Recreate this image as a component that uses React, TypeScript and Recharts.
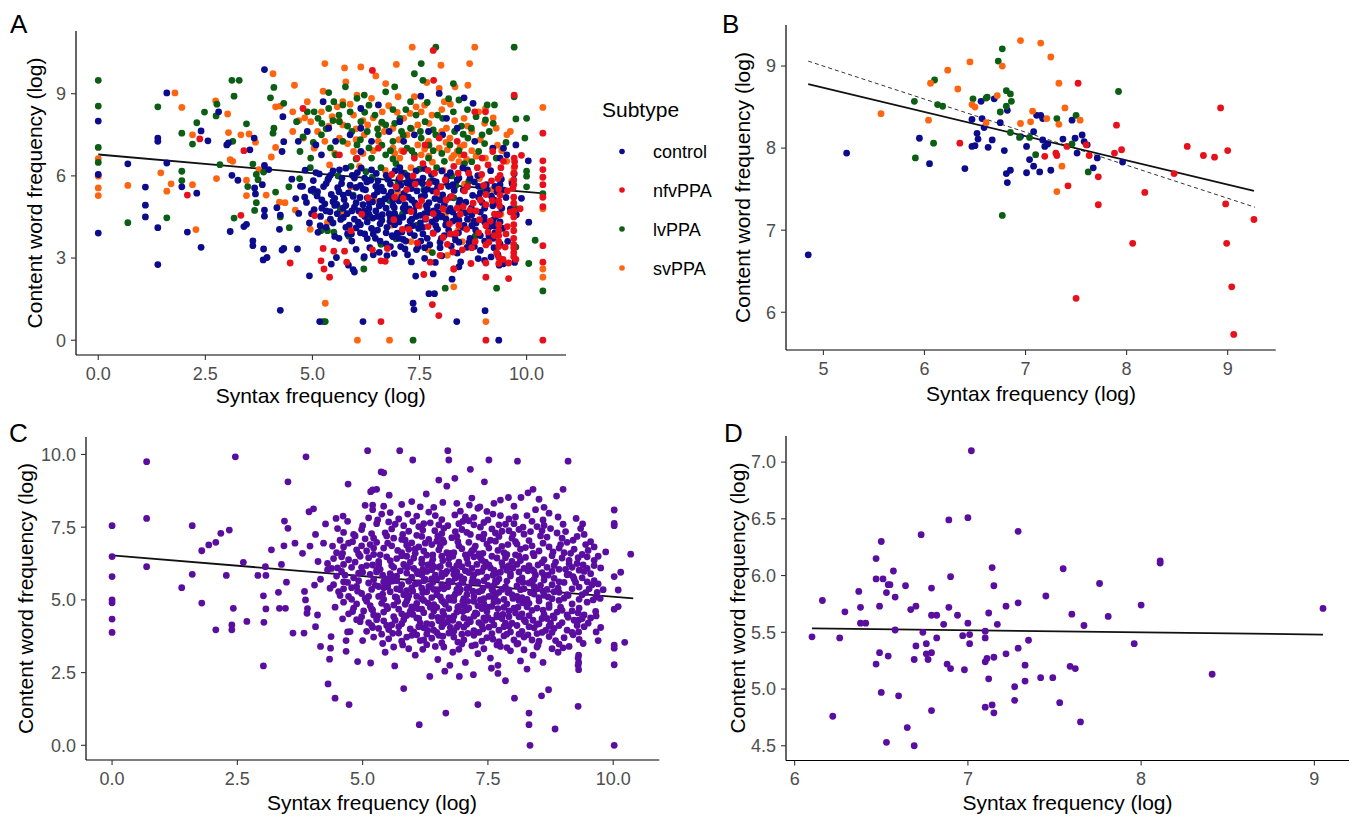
import React from 'react';
import { ScatterChart, Scatter, XAxis, YAxis, ReferenceLine } from 'recharts';

const FONT = '"Liberation Sans", Arial, Helvetica, sans-serif';
const TICK_COLOR = '#4d4d4d';

type Pt = [number, number];

const subtypeNames = ['control', 'nfvPPA', 'lvPPA', 'svPPA'];
const subtypeColors = ['#0b0b8c', '#e8101a', '#0b5e14', '#ff6410'];
const pooledColor = '#5a0ea0';

// ---- Panel A: every utterance, coloured by subtype ----
const aControl: Pt[] = [
  [0,8.0],[0,6.05],[0,3.91],[0.69,6.44],[1.1,5.59],[1.1,4.93],[1.1,4.5],[1.39,7.38],[1.39,7.26],[1.39,4.11],[1.39,2.76],
  [1.6,9.03],[1.6,6.47],[1.95,5.6],[2.08,3.95],[2.3,5.37],[2.4,3.39],[2.4,7.64],[2.56,7.28],[2.81,8.34],[3.0,7.13],[3.04,7.2],
  [3.12,6.02],[3.26,5.84],[3.08,3.97],[3.54,6.95],[3.4,4.15],[3.46,4.23],[3.61,3.63],[3.61,3.45],[3.64,7.38],[3.65,5.56],
  [3.67,5.34],[3.88,9.88],[3.86,3.33],[3.85,2.93],[3.94,3.02],[3.88,6.38],[3.83,5.68],[3.98,6.23],[3.88,4.75],[3.88,4.53],
  [4.29,6.89],[4.17,4.84],[4.25,4.57],[4.23,4.05],[4.29,3.29],[4.33,3.35],[4.25,1.09],[4.65,3.33],[4.31,8.16],[4.33,7.25],
  [5.25,8.71],[7.53,8.91],[7.96,9.01],[8.54,8.85],[8.75,8.65],[6.54,8.59],[6.13,8.46],
  [4.67,7.26],[4.88,7.62],[5.08,7.13],[5.38,7.74],[5.54,7.26],[5.88,7.5],[6.13,7.74],[6.38,7.26],[6.79,7.62],[7.13,7.26],
  [7.38,7.5],[7.71,7.62],[8.04,7.5],[8.38,7.74],[8.79,7.26],[9.21,7.01],[9.46,7.01],[9.75,7.13],[9.38,6.65],[9.54,6.77],
  [10.04,6.55],[7.04,7.98],[8.13,8.1],[5.21,6.77],[6.13,6.89],
  [4.52,5.88],[4.61,5.17],[4.68,4.63],[4.77,5.62],[4.83,6.21],[4.86,5.03],[4.93,4.28],[4.97,5.47],[5.02,5.83],[5.04,4.77],
  [5.11,5.27],[5.13,3.94],[5.16,6.07],[5.19,4.52],[5.26,5.61],[5.29,4.98],[5.32,4.12],[5.36,5.86],[5.41,4.69],[5.44,5.32],
  [5.48,6.18],[5.52,3.79],[5.57,4.96],[5.59,5.57],[5.66,4.41],[5.69,5.91],[5.74,5.14],[5.81,4.62],[5.84,5.38],[5.91,3.88],
  [5.93,6.02],[5.98,4.86],[6.02,5.58],[6.07,4.31],[6.11,5.21],[6.14,6.28],[6.21,4.72],[6.24,5.49],[6.28,3.71],[6.33,5.02],
  [6.36,5.84],[6.41,4.46],[6.44,5.29],[6.49,6.09],[6.52,4.02],[6.56,4.91],[6.61,5.59],[6.63,4.58],[6.69,5.16],[6.72,3.52],
  [6.76,5.88],[6.81,4.33],[6.84,5.41],[6.91,4.84],[6.93,6.19],[6.98,3.91],[7.02,5.09],[7.06,5.66],[7.11,4.49],[7.14,5.36],
  [7.18,3.62],[7.22,6.01],[7.26,4.79],[7.31,5.54],[7.34,4.18],[7.39,5.01],[7.43,3.31],[7.46,5.79],[7.52,4.56],[7.54,5.24],
  [7.58,3.88],[7.61,6.27],[7.66,4.91],[7.69,5.52],[7.74,3.49],[7.79,4.32],[7.86,5.17],[7.89,5.78],[7.94,4.64],[8.01,3.72],
  [8.04,5.31],[8.11,4.21],[8.14,5.98],[8.22,4.81],[8.24,3.43],[8.31,5.47],[8.36,4.52],[8.41,3.92],[8.44,5.11],[8.51,6.29],
  [8.54,4.19],[8.62,5.61],[8.66,3.58],[8.71,4.82],[8.74,5.29],[8.81,4.02],[8.86,6.01],[8.92,3.28],[8.96,5.03],[9.01,4.48],
  [9.06,5.68],[9.12,3.81],[9.16,6.19],[9.21,4.91],[9.24,4.17],[9.31,5.42],[9.33,3.12],[9.36,4.61],[9.41,5.88],[9.44,4.08],
  [9.52,5.21],[9.56,3.61],[9.62,4.79],[9.66,5.72],[9.71,6.08],[9.76,4.58],[9.88,5.18],[10.05,4.31],
  [5.72,4.82],[5.95,5.25],[6.18,4.95],[6.27,5.78],[6.4,5.05],[6.58,4.25],[6.66,5.45],[6.79,4.62],[6.88,5.12],[6.97,4.48],
  [7.04,6.3],[7.16,4.95],[7.24,5.22],[7.37,4.72],[7.48,4.08],[7.57,5.72],[7.64,4.42],[7.72,5.02],[7.83,4.72],[7.92,4.05],
  [8.08,4.95],[8.18,5.62],[8.28,4.35],[8.34,3.66],[8.48,4.86],[8.58,4.65],[8.68,5.92],[8.78,4.35],[6.02,4.1],[6.32,4.6],
  [6.53,5.82],[6.86,3.82],[7.09,3.95],[7.28,4.35],[7.44,5.45],[5.52,5.18],[5.63,6.22],[5.86,4.2],[6.12,5.65],[6.47,3.72],
  [6.74,4.12],[7.2,5.75],[7.53,3.62],[7.81,5.45],[8.02,6.18],[8.38,5.85],[8.88,5.62],[9.08,4.18],[9.28,5.02],[9.47,5.48],
  [5.08,6.12],[5.42,6.02],[5.78,6.28],[6.05,6.12],[6.38,6.22],[6.72,6.02],[7.08,6.12],[7.42,6.18],[7.78,6.05],[8.22,6.12],
  [8.62,6.22],[4.72,5.62],[5.02,5.52],[5.32,5.72],[5.62,5.42],[5.88,5.66],[6.18,5.52],[6.48,5.62],[6.82,5.7],[6.98,5.54],
  [7.28,5.66],[7.62,5.46],[7.92,5.58],[8.28,5.68],[8.52,5.48],[8.92,5.38],[4.82,5.22],[5.22,5.12],[5.48,5.06],[5.72,5.3],
  [6.02,5.02],[6.28,5.2],[6.58,5.08],[6.78,5.28],[7.08,5.22],[7.32,5.12],[7.62,5.28],[7.98,5.12],[8.22,5.22],[8.58,5.04],
  [8.88,5.22],[9.18,5.26],[4.98,4.62],[5.32,4.72],[5.58,4.62],[5.92,4.72],[6.22,4.52],[6.48,4.72],[6.72,4.82],[6.92,4.62],
  [7.18,4.72],[7.42,4.52],[7.72,4.66],[8.02,4.52],[8.28,4.68],[8.62,4.42],[8.92,4.68],[9.28,4.52],[5.18,4.18],[5.48,4.28],
  [5.78,4.12],[6.12,4.22],[6.38,4.08],[6.62,4.38],[6.92,4.22],[7.22,4.12],[7.52,4.28],[7.88,4.18],[8.18,4.02],[8.52,4.12],
  [8.82,4.28],[9.12,4.12],[5.62,3.72],[5.92,3.62],[6.22,3.88],[6.58,3.62],[6.88,3.78],[7.12,3.68],[7.38,3.82],[7.68,3.72],
  [7.98,3.58],[8.32,3.82],[8.68,3.72],[9.02,3.62],[9.38,3.52],[6.02,3.32],[6.42,3.12],[6.82,3.42],[7.22,3.12],[7.62,3.38],
  [7.98,3.38],[8.38,3.18],[8.78,3.42],
  [5.12,5.42],[5.38,5.92],[5.68,5.72],[5.98,5.92],[6.22,5.92],[6.52,5.42],[6.78,5.98],[7.02,5.88],[7.32,5.82],[7.58,5.92],
  [7.82,5.82],[8.12,5.82],[8.42,5.92],[8.78,5.78],[9.08,5.48],[9.38,5.68],[5.22,4.82],[5.52,4.92],[5.78,4.92],[6.08,4.72],
  [6.32,4.82],[6.62,4.98],[6.88,4.92],[7.12,4.82],[7.42,4.92],[7.68,4.82],[7.92,4.88],[8.18,4.72],[8.42,4.98],[8.72,4.58],
  [9.02,4.82],[9.42,4.82],[5.42,4.42],[5.72,4.48],[5.98,4.42],[6.28,4.32],[6.52,4.52],[6.82,4.48],[7.02,4.32],[7.32,4.42],
  [7.62,4.62],[7.88,4.42],[8.12,4.42],[8.42,4.38],[8.72,4.18],[9.02,4.32],[9.38,4.32],[5.82,3.88],[6.12,3.92],[6.42,3.88],
  [6.72,3.92],[7.02,3.72],[7.28,3.92],[7.58,4.12],[7.82,3.92],[8.08,3.82],[8.42,3.58],[8.92,3.82],[9.22,3.72],[9.24,3.38],
  [9.26,3.92],[9.22,4.38],[9.24,5.12],[9.26,5.62],
  [4.93,2.35],[5.44,2.78],[5.56,3.02],[5.84,2.74],[5.95,2.58],[5.98,2.49],[6.21,3.05],[6.34,3.38],[6.56,3.21],[6.74,3.09],
  [6.91,3.16],[7.06,3.42],[7.16,3.33],[7.31,2.86],[7.41,2.34],[7.47,3.41],[7.62,2.99],[7.82,2.42],[7.87,2.84],[8.02,3.08],
  [8.26,2.23],[8.42,2.68],[8.46,2.86],[8.61,3.39],[8.87,2.98],[9.02,2.91],[9.17,3.04],[9.36,2.74],[9.46,2.79],[9.72,2.84],
  [5.17,0.68],[6.18,0.68],[7.35,1.35],[7.37,1.12],[7.72,1.7],[7.85,1.7],[8.37,0.68],[9.03,1.08],[9.35,0],
];
const aNfv: Pt[] = [
  [2.08,5.3],[2.37,7.35],[3.33,4.56],[3.4,6.92],[4.48,2.82],[4.78,8.46],
  [6.4,9.85],[7.82,10.58],[7.83,9.49],[9.71,8.95],
  [7.63,7.13],[7.96,7.38],[8.38,7.26],[8.79,8.34],[9.04,8.34],[8.54,6.77],[8.96,6.65],[9.21,6.89],[9.46,6.53],[9.71,6.65],
  [9.88,6.75],[10.38,6.55],[10.38,6.23],[10.38,5.95],[10.38,5.68],[10.38,7.56],[6.54,7.01],[7.13,6.89],[5.63,6.77],[6.04,6.65],
  [7.38,6.65],
  [5.05,4.55],[5.2,2.9],[5.25,3.35],[5.27,2.6],[5.4,2.3],[5.5,3.25],[5.75,3.25],[5.8,2.85],[5.9,4.0],[6.15,4.6],[6.4,3.3],
  [6.3,5.2],[6.6,0.68],[6.6,2.9],[6.7,2.88],[6.75,3.35],[6.9,4.4],[6.95,5.6],[7.1,4.05],[7.2,5.5],[7.3,4.7],[7.35,6.0],
  [7.45,3.55],[7.55,5.1],[7.6,2.4],[7.65,4.45],[7.7,6.2],[7.75,2.85],[7.8,1.3],[7.82,3.9],[7.9,5.4],[7.95,0.9],[7.98,3.1],
  [8.05,4.8],[8.1,5.85],[8.15,3.5],[8.2,4.25],[8.25,5.25],[8.3,2.6],[8.35,3.9],[8.4,6.1],[8.45,4.6],[8.5,3.3],[8.55,5.45],
  [8.6,4.05],[8.7,2.8],[8.75,5.0],[8.8,3.6],[8.85,6.3],[8.9,4.4],[9.0,5.65],[9.05,2.3],[9.05,0],[9.1,3.95],[9.2,5.1],
  [9.25,4.6],[9.3,3.2],[9.33,5.9],[9.35,4.0],[9.35,3.6],[9.37,4.9],[9.38,5.3],[9.35,2.8],[9.4,6.3],[9.45,2.95],[9.5,3.4],
  [9.58,2.25],[9.68,5.55],[9.7,4.5],[9.7,4.0],[9.7,3.5],[9.7,3.2],[9.7,5.0],[9.72,6.35],[9.75,2.95],[9.85,4.8],[10.38,0],
  [10.38,2.85],[10.38,3.45],
  [6.85,6.05],[7.05,5.95],[7.4,5.7],[7.58,6.45],[7.85,6.1],[8.0,5.6],[8.3,6.35],[8.65,6.1],[8.95,6.05],[9.1,6.4],[7.25,4.05],
  [7.7,4.15],[8.05,3.75],[8.42,4.2],[8.68,4.75],[9.15,4.35],[9.55,4.15],[9.55,5.45],[9.7,5.85],[9.7,6.1],
  [7.12,5.18],[7.48,4.92],[7.82,4.62],[8.12,5.12],[8.38,4.82],[8.62,5.62],[8.92,5.12],[9.18,5.82],[8.22,3.88],[8.88,3.92],
  [9.12,3.58],[9.52,3.88],[9.62,4.68],[6.92,5.22],[7.72,5.72],
  [9.35,3.02],[9.35,3.42],[9.35,3.82],[9.35,4.22],[9.35,4.58],[9.35,5.08],[9.35,5.52],[9.38,6.02],[9.7,3.05],[9.7,3.38],
  [9.7,3.72],[9.7,4.22],[9.7,4.72],[9.7,5.22],[9.7,5.68],[9.72,6.52],[9.05,4.18],[9.05,4.95],[9.05,5.32],[9.05,3.48],
  [8.72,3.38],[8.52,4.88],[8.28,3.22],[8.82,4.72],[9.25,3.82],[9.58,2.82],[9.05,2.82],[10.38,4.88],[10.38,5.22],
];
const aLv: Pt[] = [
  [0,9.49],[0,8.55],[0,7.04],[0,6.49],[0.69,4.29],[1.39,8.52],[1.6,4.47],[1.95,7.56],[1.95,6.17],[1.95,5.83],[2.2,7.16],
  [2.3,7.94],[2.48,8.33],[2.77,8.62],[2.75,8.19],[2.84,6.41],[3.17,4.46],[3.12,9.49],[3.29,9.49],[3.17,8.91],[3.14,7.26],
  [3.46,7.9],[3.49,5.61],[3.61,6.43],[3.69,6.05],[3.65,4.74],[3.69,5.02],[3.73,5.86],[3.86,6.14],[4.1,9.23],[4.02,8.85],
  [4.1,7.74],[4.08,7.56],[4.14,5.41],[4.25,4.5],[4.46,4.11],[4.33,8.65],
  [7.88,10.7],[9.71,10.7],[7.54,10.1],[7.38,9.73],[6.92,9.25],[7.58,9.49],[8.29,9.37],[5.38,9.04],[5.77,9.25],[6.21,8.95],
  [6.71,9.07],[9.71,8.89],[8.42,8.77],[9.08,8.59],[5.04,8.34],[5.71,8.59],[6.04,8.83],[7.29,8.71],[9.04,8.04],[9.25,8.59],
  [10.0,8.1],[9.75,8.08],[5.5,8.71],
  [4.63,7.98],[4.88,8.34],[5.13,8.1],[5.38,8.46],[5.63,7.98],[5.88,8.34],[6.13,7.98],[6.46,8.22],[6.71,7.86],[7.04,8.1],
  [7.29,7.74],[7.63,7.98],[8.04,8.1],[8.29,8.34],[8.71,7.74],[8.96,7.5],[9.13,7.62],[5.21,7.5],[5.71,7.26],[6.04,7.13],
  [6.54,7.5],[6.88,7.26],[7.21,7.01],[7.54,7.38],[7.88,7.5],[8.21,7.13],[8.63,7.38],[8.88,6.89],[4.71,6.89],[4.96,6.65],
  [5.54,6.77],[6.38,6.65],[6.71,6.77],[7.38,6.77],[7.71,6.65],[8.08,6.53],[9.29,6.65],[9.96,7.38],[10.0,6.17],[10.0,5.99],
  [10.0,5.6],
  [4.78,7.42],[5.32,7.72],[5.82,7.82],[6.28,7.62],[6.62,7.96],[7.12,7.48],[7.42,8.22],[7.82,7.68],[8.48,7.82],[8.82,8.16],
  [5.48,8.02],[6.32,8.58],[6.88,8.42],[7.68,8.68],[8.18,8.82],[6.12,7.32],[6.82,6.92],[7.72,7.12],[8.42,6.92],[9.02,7.18],
  [5.22,7.92],[5.62,8.22],[5.92,7.62],[6.22,8.32],[6.52,7.72],[6.92,7.92],[7.18,8.42],[7.52,7.62],[7.92,8.22],[8.32,7.62],
  [8.62,8.42],[9.22,7.92],[5.02,7.22],[5.42,7.02],[6.02,6.62],[6.62,7.12],[7.32,6.92],[8.02,6.82],[8.72,6.52],[9.52,7.22],
  [6.32,7.02],[7.82,6.92],[8.52,7.52],[7.08,7.62],[6.88,6.62],
  [4.45,5.6],[4.7,5.9],[4.95,6.3],[5.05,5.4],[5.2,4.0],[5.35,4.0],[5.5,3.95],[5.65,4.8],[5.85,3.8],[5.95,5.3],[6.2,3.0],
  [6.2,2.6],[6.35,4.5],[6.5,5.6],[6.6,3.5],[6.8,5.1],[6.95,3.7],[7.1,4.6],[7.25,5.9],[7.45,4.2],[7.6,5.5],[7.8,3.2],[8.0,4.5],
  [8.1,1.9],[8.3,5.2],[8.5,4.7],[8.65,5.8],[8.8,3.8],[9.0,5.5],[9.3,1.9],[9.35,4.1],[9.75,4.8],[9.75,3.4],[10.05,2.8],
  [10.2,3.65],[10.38,1.8],[10.38,5.35],[5.25,0.68],[5.3,0.68],[7.35,0],
  [5.9,6.35],[6.25,6.15],[6.6,6.3],[6.95,6.45],[7.15,6.1],[7.5,6.25],[7.9,6.3],[8.25,6.0],[8.55,6.45],[6.4,5.95],[7.0,5.75],
  [7.75,5.8],[8.35,5.65],[5.6,6.0],
];
const aSv: Pt[] = [
  [0,6.63],[0,5.99],[0,5.56],[0,5.28],[0.69,5.65],[1.46,6.11],[1.6,5.44],[1.7,5.71],[1.79,9.03],[1.95,8.5],[2.2,5.68],
  [2.2,7.5],[2.28,4.04],[2.74,8.74],[2.76,5.9],[3.02,8.26],[3.04,7.58],[3.08,6.59],[3.14,6.53],[3.33,7.5],[3.52,7.53],
  [3.46,5.84],[3.46,5.28],[3.67,7.23],[3.75,6.23],[3.92,5.3],[4.08,9.73],[4.14,8.52],[4.14,7.04],[4.04,6.69],[4.23,5.04],
  [4.36,5.02],[4.25,8.55],
  [5.29,10.1],[5.75,9.94],[6.13,9.98],[6.48,9.65],[6.96,10.07],[7.33,10.7],[8.79,10.7],[8.67,10.1],[8.0,10.04],[5.78,9.43],
  [5.25,9.09],[4.58,9.31],[6.71,9.37],[7.38,8.89],[7.67,9.41],[8.33,9.25],[8.63,9.31],[5.71,8.71],[6.04,8.95],[7.96,9.19],
  [6.38,8.83],[7.0,8.89],[4.88,8.71],[7.54,8.34],[8.08,8.71],
  [4.54,8.34],[4.96,7.98],[5.21,8.34],[5.46,8.16],[5.71,7.86],[5.96,8.22],[6.29,7.86],[6.63,8.34],[6.88,7.74],[7.13,8.1],
  [7.46,7.86],[7.79,8.22],[8.13,7.74],[8.54,8.1],[8.88,8.34],[9.04,8.46],[9.29,7.74],[9.54,7.5],[6.21,7.5],[6.54,7.26],
  [7.21,7.5],[7.71,7.26],[8.21,7.38],[8.54,7.13],[8.38,6.89],[7.96,7.01],[7.46,7.13],[6.88,7.01],[5.63,7.38],[4.79,7.38],
  [4.54,7.62],[5.04,7.01],[5.96,6.89],[8.46,6.77],[8.25,6.65],[7.54,6.77],[9.54,6.53],[9.71,6.29],[9.04,6.65],[7.04,6.65],
  [5.29,7.26],
  [4.68,8.02],[5.12,7.62],[5.58,8.52],[6.02,7.72],[6.42,8.12],[6.78,8.56],[7.28,8.28],[7.62,8.58],[8.02,8.42],[8.32,8.02],
  [8.72,7.62],[9.22,8.12],[5.82,7.18],[6.42,6.92],[7.02,7.32],[7.62,6.98],[8.02,7.62],[8.72,6.92],[9.32,7.12],[6.68,7.62],
  [4.82,8.12],[5.38,7.82],[5.62,8.02],[5.88,8.62],[6.18,8.02],[6.62,7.92],[6.98,8.32],[7.32,7.72],[7.72,7.92],[8.22,8.62],
  [8.62,7.82],[9.02,7.92],[5.52,6.82],[6.18,6.82],[6.92,6.82],[7.72,6.72],[8.12,7.22],[8.92,7.32],[9.42,6.92],[7.42,8.52],
  [6.02,7.32],[8.42,6.52],[7.08,6.92],[8.82,6.72],[9.62,7.62],
  [4.6,4.75],[4.95,4.05],[5.3,1.35],[5.35,4.3],[5.7,4.6],[5.9,5.6],[6.05,0],[6.2,4.7],[6.45,5.1],[6.8,0],[6.85,4.2],[7.0,5.4],
  [7.3,3.6],[7.5,4.9],[7.7,3.3],[7.9,5.2],[8.1,4.6],[8.15,3.1],[8.3,1.95],[8.3,2.6],[8.4,4.0],[8.5,3.6],[8.55,5.7],[8.7,4.4],
  [8.9,5.9],[9.05,0.68],[9.2,5.5],[9.4,4.6],[9.65,5.8],[10.38,8.5],[10.38,4.8],[10.38,2.3],[10.38,2.6],
  [8.15,6.95],[8.3,6.75],[8.45,7.05],[8.6,6.6],[7.8,6.5],[8.05,6.2],[6.1,6.35],[6.7,6.2],[5.4,6.4],[7.3,6.3],
];
const aFit: Pt[] = [[0, 6.78], [10.4, 5.36]];

// ---- Panel B: speaker means, coloured by subtype ----
const bControl: Pt[] = [
  [4.85,6.7],[5.23,7.94],[5.95,8.12],[6.05,7.81],[6.4,7.75],[6.47,8.35],[6.47,8.02],[6.5,8.03],[6.52,8.18],[6.53,8.11],
  [6.56,8.57],[6.57,8.36],[6.59,8.25],[6.63,8.01],[6.67,8.1],[6.69,8.6],[6.75,8.31],[6.79,7.97],[6.81,7.69],[6.82,7.58],
  [6.82,8.46],[6.85,7.73],[6.95,8.14],[7.01,8.02],[7.01,7.7],[7.04,7.86],[7.08,7.78],[7.08,8.2],[7.11,8.4],[7.14,7.71],
  [7.15,8.4],[7.17,8.1],[7.17,8.36],[7.19,8.02],[7.22,8.05],[7.25,7.73],[7.37,8.11],[7.46,8.34],[7.49,8.12],[7.51,7.94],
  [7.56,8.16],[7.58,8.08],[7.61,8.04],[7.67,7.76],[7.71,7.88],[7.96,7.83],
];
const bNfv: Pt[] = [
  [6.35,8.06],[7.19,7.9],[7.3,7.94],[7.31,7.91],[7.41,8.02],[7.42,7.54],[7.5,6.17],[7.52,8.79],[7.6,8.04],[7.63,7.91],
  [7.72,7.65],[7.72,7.31],[7.88,7.94],[7.9,8.28],[7.95,7.98],[8.06,6.84],[8.18,7.46],[8.47,7.69],[8.6,8.02],[8.76,7.91],
  [8.87,7.89],[8.93,8.49],[8.98,7.32],[8.99,6.84],[9.0,7.97],[9.04,6.31],[9.06,5.73],[9.26,7.13],
];
const bLv: Pt[] = [
  [5.9,8.57],[5.91,7.88],[6.09,8.06],[6.1,8.83],[6.13,8.53],[6.18,8.51],[6.48,8.6],[6.61,8.61],[6.62,8.62],[6.73,9.06],
  [6.75,8.44],[6.77,9.21],[6.77,7.18],[6.81,8.7],[6.81,8.51],[6.85,8.66],[6.86,8.57],[6.85,8.19],[6.94,8.13],[7.04,8.13],
  [7.1,7.92],[7.31,8.36],[7.46,8.05],[7.5,8.4],[7.62,7.71],[7.92,8.69],
];
const bSv: Pt[] = [
  [5.57,8.42],[6.04,8.34],[6.06,8.79],[6.23,8.95],[6.33,8.72],[6.45,9.05],[6.47,8.53],[6.5,8.5],[6.61,8.31],[6.72,8.64],
  [6.77,9.0],[6.95,9.31],[6.95,8.3],[7.07,8.45],[7.05,8.32],[7.15,9.28],[7.21,8.36],[7.25,9.11],[7.33,8.79],[7.33,8.29],
  [7.36,7.78],[7.31,7.47],[7.39,8.49],[7.54,8.34],
];
const bFit: Pt[] = [[4.85, 8.78], [9.26, 7.48]];
const bFitDashed: Pt[] = [[4.85, 9.06], [9.27, 7.28]];

// ---- Panel C: every utterance, pooled ----
const cAll: Pt[] = [
  [0,7.55],[0,6.49],[0,5.8],[0,5.0],[0,4.9],[0,4.34],[0,3.88],[0.69,9.75],[0.69,7.8],[0.69,6.14],[1.39,5.42],[1.6,7.55],
  [1.6,5.88],[1.79,6.69],[1.79,4.89],[1.93,6.89],[2.07,3.97],[2.07,6.98],[2.17,7.29],[2.28,5.84],[2.34,7.4],[2.39,4.14],
  [2.39,3.97],[2.46,9.92],[2.42,4.71],[2.62,6.29],[2.69,4.26],[2.91,5.84],[3.03,4.23],[3.02,5.14],[3.02,2.73],[3.06,6.14],
  [3.07,4.69],[3.07,5.84],[3.18,6.72],[3.32,5.26],[3.34,4.71],[3.38,6.22],[3.46,4.71],[3.43,6.86],[3.44,7.71],[3.51,9.06],
  [3.51,7.46],[3.48,5.61],[3.61,3.86],[3.65,6.95],[3.8,6.6],[3.87,9.92],[3.84,5.29],[3.83,3.86],[3.86,5.0],[3.9,4.7],
  [3.89,4.54],[3.93,8.03],[4.02,8.13],[3.95,6.85],[4.06,7.25],[4.11,6.32],[4.04,5.51],[4.06,4.08],[4.1,4.48],[4.16,5.71],
  [4.22,6.95],[4.26,7.61],[4.3,6.03],[4.16,3.4],[4.34,2.96],[4.36,3.34],[4.31,2.11],[4.37,3.74],[4.45,1.62],[4.47,7.8],
  [4.67,3.23],[4.67,3.6],[4.73,1.4],[4.71,8.98],[4.61,7.88],[4.75,3.91],[4.9,2.88],
  [5.1,10.13],[5.37,9.4],[5.42,9.37],[5.74,10.13],[6.0,9.81],[6.7,10.13],[6.72,9.81],[7.15,9.49],[7.52,9.81],[7.43,9.06],
  [8.09,9.77],[9.1,9.77],[6.52,9.12],[6.84,9.18],[5.16,8.72],[5.28,8.8],[5.2,8.78],[5.2,8.26],[5.53,8.6],[5.98,8.38],
  [6.27,8.64],[6.68,8.91],[7.13,8.26],[7.34,8.2],[7.75,8.43],[7.91,8.52],[8.16,8.52],[8.3,8.68],[8.4,8.8],[8.52,8.46],
  [8.87,8.57],[9.0,8.8],[9.26,7.8],[9.39,7.61],[10.02,8.09],[10.02,7.63],[10.02,7.55],[10.35,6.57],[10.15,5.95],[10.1,5.34],
  [10.1,4.77],[10.23,3.54],[10.02,5.8],[10.02,4.68],[10.02,3.44],[10.02,3.34],[10.02,2.77],[10.02,0],
  [5.16,2.83],[5.64,2.73],[5.82,1.95],[6.13,0.71],[6.34,2.37],[6.66,1.11],[6.64,2.55],[6.74,2.75],[6.93,2.37],[7.21,2.43],
  [7.3,1.4],[7.57,2.65],[7.7,2.47],[7.85,2.22],[8.03,1.62],[8.28,2.62],[8.32,0.71],[8.32,1.11],[8.34,0],[8.57,1.7],
  [8.71,1.91],[8.84,0.56],[9.3,1.34],[9.31,2.6],[9.31,2.85],[9.31,3.1],[9.31,3.9],[9.31,4.3],
  [5.05,8.25],[5.2,8.1],[5.55,8.0],[5.9,7.95],[6.15,8.2],[6.45,7.9],[6.6,8.35],[6.95,8.05],[7.05,7.85],[7.3,8.15],[7.6,7.95],
  [7.75,7.9],[8.05,7.85],[8.45,8.1],[8.6,7.75],[8.9,7.85],[9.0,7.6],
  [4.5,7.45],[4.7,7.7],[4.85,7.2],[5.0,7.55],[5.3,7.75],[5.45,7.3],[5.65,7.6],[5.8,7.25],[6.0,7.7],[6.2,7.4],[6.35,7.65],
  [6.5,7.2],[6.7,7.55],[6.85,7.35],[7.0,7.7],[7.15,7.25],[7.35,7.5],[7.5,7.75],[7.65,7.3],[7.85,7.6],[8.0,7.25],[8.2,7.5],
  [8.35,7.35],[8.55,7.2],[8.75,7.45],[9.05,7.35],[9.2,7.05],[9.35,7.45],[9.55,7.0],
  [4.4,6.85],[4.6,6.6],[4.8,7.0],[4.95,6.5],[5.15,6.9],[5.35,6.55],[5.5,6.95],[5.7,6.7],[5.85,7.05],[6.05,6.6],[6.25,6.95],
  [6.4,6.55],[6.55,6.85],[6.75,6.6],[6.9,7.0],[7.05,6.55],[7.25,6.85],[7.4,6.6],[7.55,7.05],[7.7,6.7],[7.9,6.9],[8.05,6.55],
  [8.25,6.8],[8.4,6.6],[8.6,6.95],[8.8,6.65],[8.95,6.9],[9.15,6.6],[9.3,6.45],[9.5,6.7],[9.7,6.5],[9.85,6.65],
  [4.3,6.25],[4.5,6.1],[4.65,5.85],[4.85,6.3],[5.0,5.95],[5.2,6.2],[5.4,5.85],[5.55,6.35],[5.75,6.0],[5.95,6.3],[6.1,5.9],
  [6.3,6.2],[6.45,5.85],[6.6,6.35],[6.8,6.05],[6.95,5.8],[7.1,6.25],[7.3,5.95],[7.45,6.3],[7.6,5.85],[7.8,6.15],[7.95,5.9],
  [8.15,6.35],[8.3,6.0],[8.5,6.2],[8.7,5.85],[8.85,6.3],[9.05,6.05],[9.2,5.8],[9.4,6.2],[9.55,5.9],[9.75,6.1],
  [4.35,5.4],[4.55,5.15],[4.7,5.6],[4.9,5.3],[5.05,5.05],[5.25,5.5],[5.4,5.2],[5.6,5.65],[5.75,5.35],[5.9,5.05],[6.05,5.55],
  [6.2,5.25],[6.4,5.6],[6.55,5.1],[6.7,5.45],[6.85,5.2],[7.0,5.6],[7.2,5.3],[7.35,5.0],[7.5,5.5],[7.65,5.15],[7.85,5.45],
  [8.0,5.05],[8.2,5.6],[8.35,5.25],[8.55,5.5],[8.7,5.1],[8.9,5.4],[9.1,5.15],[9.25,5.6],[9.45,5.25],[9.6,5.0],[9.8,5.35],
  [4.45,4.75],[4.6,4.35],[4.8,4.6],[4.95,4.25],[5.15,4.8],[5.3,4.45],[5.5,4.7],[5.65,4.3],[5.85,4.85],[6.0,4.5],[6.15,4.2],
  [6.35,4.75],[6.5,4.4],[6.65,4.85],[6.8,4.3],[7.0,4.6],[7.15,4.25],[7.3,4.8],[7.5,4.4],[7.7,4.7],[7.85,4.2],[8.05,4.55],
  [8.2,4.9],[8.4,4.3],[8.6,4.65],[8.75,4.2],[8.95,4.75],[9.1,4.4],[9.3,4.55],[9.5,4.2],[9.65,4.6],[9.75,4.05],
  [4.7,3.9],[5.0,3.6],[5.2,4.05],[5.4,3.5],[5.6,3.85],[5.8,3.45],[5.95,4.0],[6.15,3.6],[6.3,3.95],[6.45,3.4],[6.6,3.75],
  [6.75,4.05],[6.9,3.55],[7.1,3.85],[7.25,3.45],[7.4,4.0],[7.6,3.65],[7.75,3.4],[7.95,3.9],[8.1,3.5],[8.3,3.8],[8.5,3.45],
  [8.65,3.95],[8.85,3.6],[9.0,3.35],[9.2,3.8],[9.4,3.5],[9.7,3.6],
  [5.45,3.2],[6.05,3.1],[6.2,3.3],[6.5,2.95],[6.8,3.2],[7.05,2.85],[7.3,3.15],[7.55,3.0],[7.7,2.75],[7.95,3.25],[8.15,2.9],
  [8.4,3.1],[8.6,2.85],[8.9,3.2],[9.3,2.75],[9.3,3.0],
  [5.55,5.9],[5.7,4.95],[5.85,6.15],[6.0,5.3],[6.1,4.7],[6.25,5.7],[6.3,4.9],[6.4,6.4],[6.5,5.35],[6.6,4.6],[6.65,5.9],
  [6.75,5.0],[6.8,6.5],[6.9,4.75],[6.95,5.35],[7.05,6.0],[7.1,4.95],[7.2,5.75],[7.25,4.55],[7.35,6.45],[7.4,5.4],[7.5,4.75],
  [7.55,6.1],[7.6,5.3],[7.7,4.95],[7.75,5.95],[7.8,4.5],[7.9,5.25],[8.0,6.1],[8.1,4.75],[5.65,5.1],[5.95,4.6],[6.2,6.05],
  [6.35,5.45],[6.55,6.15],[6.7,4.25],[6.85,5.75],[7.0,4.95],[7.15,6.6],[7.3,5.6],[7.45,4.3],[7.65,5.65],[7.85,6.45],
  [8.15,5.35],[8.25,4.25],[8.45,5.85],[8.6,5.3],[8.8,4.45],[5.5,5.45],[5.35,6.05],[5.2,4.65],[6.05,6.75],[6.6,7.05],
  [7.4,7.1],[8.05,7.0],[9.66,3.9],[9.66,4.45],[9.66,5.1],[9.7,5.55],[9.74,5.05],
  [5.12,7.82],[5.38,7.95],[5.72,7.78],[6.08,7.88],[6.32,8.02],[6.58,7.76],[6.84,7.92],[7.22,7.84],[7.48,8.04],[7.92,7.78],
  [8.28,7.9],[8.72,7.98],[4.62,7.32],[4.98,7.42],[5.18,7.28],[5.58,7.44],[5.92,7.36],[6.12,7.52],[6.44,7.38],[6.62,7.46],
  [6.98,7.42],[7.22,7.58],[7.58,7.44],[7.78,7.36],[8.12,7.42],[8.48,7.52],[8.88,7.3],[9.42,7.25],[4.55,7.05],[4.72,6.95],
  [5.05,7.1],[5.28,6.98],[5.62,7.12],[5.98,6.96],[6.18,7.18],[6.48,7.02],[6.78,7.14],[7.12,6.98],[7.32,7.16],[7.65,7.02],
  [7.98,7.12],[8.32,7.04],[8.68,7.16],[9.08,6.98],[9.45,6.9],[4.48,6.62],[4.88,6.72],[5.08,6.68],[5.42,6.78],[5.78,6.62],
  [5.92,6.74],[6.22,6.68],[6.52,6.72],[6.68,6.62],[6.98,6.76],[7.18,6.68],[7.52,6.78],[7.82,6.62],[8.15,6.74],[8.52,6.68],
  [8.92,6.78],[9.22,6.74],[9.62,6.82],[4.42,6.42],[4.72,6.38],[5.12,6.45],[5.32,6.32],[5.68,6.42],[5.88,6.5],[6.18,6.4],
  [6.38,6.28],[6.72,6.42],[6.92,6.3],[7.22,6.48],[7.38,6.36],[7.68,6.44],[7.98,6.32],[8.25,6.46],[8.62,6.38],[8.98,6.44],
  [9.28,6.25],[9.62,6.36],[4.38,6.08],[4.78,6.12],[5.08,6.18],[5.28,6.02],[5.62,6.12],[5.82,6.22],[6.02,6.08],[6.28,5.98],
  [6.52,6.12],[6.68,5.98],[6.88,6.18],[7.18,6.08],[7.42,6.12],[7.62,6.02],[7.92,6.18],[8.22,6.08],[8.42,5.98],[8.68,6.12],
  [8.92,6.05],[9.18,6.12],[9.48,6.08],[4.48,5.82],[4.82,5.76],[5.15,5.88],[5.48,5.72],[5.68,5.82],[5.98,5.78],[6.18,5.86],
  [6.38,5.72],[6.58,5.8],[6.82,5.88],[7.02,5.72],[7.22,5.86],[7.48,5.78],[7.72,5.72],[7.95,5.82],[8.18,5.76],[8.42,5.7],
  [8.62,5.84],[8.82,5.74],[9.12,5.88],[9.38,5.76],[9.62,5.66],[4.42,5.52],[4.78,5.42],[5.12,5.58],[5.32,5.46],[5.52,5.6],
  [5.78,5.52],[5.98,5.42],[6.12,5.58],[6.32,5.46],[6.58,5.52],[6.78,5.62],[6.92,5.5],[7.12,5.44],[7.28,5.62],[7.62,5.5],
  [7.78,5.36],[8.08,5.48],[8.32,5.58],[8.48,5.38],[8.78,5.52],[9.02,5.6],[9.32,5.44],[9.58,5.52],[4.52,5.28],[4.72,5.12],
  [4.98,5.22],[5.32,5.12],[5.55,5.28],[5.82,5.18],[6.08,5.12],[6.28,5.28],[6.48,5.18],[6.72,5.08],[6.92,5.26],[7.08,5.18],
  [7.32,5.28],[7.52,5.12],[7.72,5.26],[7.98,5.18],[8.18,5.08],[8.42,5.2],[8.62,5.16],[8.82,5.28],[9.02,5.06],[9.38,5.18],
  [9.68,5.26],[4.62,4.92],[4.88,4.86],[5.08,4.95],[5.38,4.88],[5.62,4.82],[5.88,4.96],[6.08,4.88],[6.22,4.98],[6.42,4.84],
  [6.62,4.92],[6.82,4.98],[7.02,4.82],[7.22,4.95],[7.42,4.86],[7.62,4.94],[7.88,4.86],[8.12,4.98],[8.32,4.88],[8.52,4.96],
  [8.72,4.84],[8.92,4.98],[9.18,4.86],[9.48,4.92],[4.72,4.52],[5.02,4.62],[5.22,4.48],[5.42,4.58],[5.78,4.52],[5.98,4.66],
  [6.22,4.56],[6.42,4.62],[6.62,4.48],[6.88,4.58],[7.08,4.66],[7.28,4.52],[7.48,4.6],[7.68,4.48],[7.92,4.62],[8.18,4.52],
  [8.38,4.64],[8.62,4.5],[8.88,4.58],[9.18,4.62],[9.42,4.48],[4.88,4.32],[5.12,4.22],[5.42,4.28],[5.58,4.14],[5.82,4.32],
  [6.08,4.38],[6.28,4.18],[6.52,4.28],[6.72,4.38],[6.92,4.16],[7.12,4.32],[7.32,4.22],[7.58,4.3],[7.78,4.36],[7.98,4.2],
  [8.22,4.32],[8.48,4.16],[8.68,4.36],[8.98,4.22],[9.22,4.3],[9.55,4.38],[5.08,3.92],[5.32,4.02],[5.52,3.98],[5.72,4.08],
  [6.02,3.9],[6.22,4.04],[6.42,3.96],[6.58,4.08],[6.82,3.92],[7.02,4.06],[7.22,3.94],[7.52,4.06],[7.72,3.96],[7.92,4.1],
  [8.18,3.92],[8.42,4.04],[8.58,3.88],[8.82,4.02],[9.08,3.96],[9.42,4.08],[5.22,3.72],[5.52,3.66],[5.88,3.72],[6.08,3.8],
  [6.38,3.68],[6.52,3.78],[6.82,3.72],[7.02,3.62],[7.22,3.78],[7.48,3.7],[7.82,3.76],[8.02,3.62],[8.22,3.72],[8.38,3.62],
  [8.72,3.74],[9.02,3.7],[9.32,3.64],[5.62,3.38],[5.92,3.32],[6.28,3.46],[6.62,3.38],[6.92,3.3],[7.18,3.42],[7.42,3.32],
  [7.68,3.45],[7.88,3.36],[8.22,3.28],[8.48,3.38],[8.78,3.32],[9.12,3.4],[5.42,8.22],[5.78,8.28],[6.42,8.18],[6.88,8.32],
  [7.18,8.5],[7.62,8.32],[8.02,8.22],[8.62,8.18],
  [5.28,7.62],[5.52,7.68],[5.82,7.55],[6.22,7.62],[6.52,7.58],[6.92,7.62],[7.12,7.72],[7.42,7.66],[7.72,7.58],[8.02,7.62],
  [8.38,7.7],[8.62,7.56],[4.82,7.25],[5.22,7.12],[5.48,7.2],[5.78,7.08],[6.08,7.22],[6.32,7.08],[6.58,7.28],[6.88,7.18],
  [7.08,7.32],[7.42,7.26],[7.72,7.18],[7.92,7.38],[8.22,7.26],[8.58,7.38],[8.98,7.12],[9.28,7.18],[4.62,6.82],[4.98,6.86],
  [5.22,6.78],[5.58,6.86],[5.88,6.88],[6.12,6.82],[6.38,6.9],[6.62,6.98],[6.92,6.86],[7.22,6.74],[7.48,6.92],[7.78,6.84],
  [8.08,6.92],[8.38,6.86],[8.72,6.82],[9.02,6.62],[9.38,6.56],[4.58,6.48],[4.92,6.58],[5.22,6.56],[5.48,6.48],[5.78,6.52],
  [6.02,6.44],[6.28,6.54],[6.58,6.5],[6.82,6.62],[7.08,6.42],[7.32,6.58],[7.58,6.5],[7.88,6.56],[8.12,6.5],[8.42,6.52],
  [8.78,6.52],[9.12,6.36],[9.48,6.48],[4.62,6.22],[4.98,6.12],[5.32,6.22],[5.58,6.18],[5.9,6.12],[6.18,6.26],[6.42,6.14],
  [6.72,6.22],[6.98,6.14],[7.28,6.22],[7.52,6.2],[7.78,6.28],[8.08,6.22],[8.32,6.18],[8.58,6.28],[8.82,6.18],[9.12,6.24],
  [9.32,6.02],[9.62,6.18],[4.58,5.98],[4.92,5.92],[5.28,5.96],[5.58,5.82],[5.88,5.92],[6.08,5.98],[6.38,6.04],[6.58,5.92],
  [6.88,5.96],[7.12,5.94],[7.38,5.98],[7.68,5.92],[7.88,6.02],[8.12,5.96],[8.38,6.04],[8.58,5.94],[8.78,5.98],[9.08,5.86],
  [9.42,5.98],[4.62,5.62],[4.92,5.66],[5.22,5.7],[5.42,5.62],[5.68,5.66],[5.92,5.64],[6.22,5.66],[6.48,5.72],[6.72,5.64],
  [6.98,5.68],[7.18,5.62],[7.42,5.66],[7.68,5.62],[7.88,5.64],[8.12,5.68],[8.38,5.64],[8.62,5.68],[8.92,5.62],[9.22,5.72],
  [9.48,5.62],[4.62,5.38],[4.88,5.46],[5.18,5.36],[5.42,5.42],[5.68,5.38],[5.88,5.32],[6.18,5.4],[6.42,5.36],[6.62,5.38],
  [6.88,5.36],[7.08,5.38],[7.38,5.32],[7.58,5.36],[7.92,5.34],[8.22,5.38],[8.42,5.46],[8.68,5.36],[8.92,5.26],[9.18,5.38],
  [9.52,5.38],[4.78,5.02],[5.12,5.12],[5.42,5.02],[5.68,5.08],[5.92,5.14],[6.18,5.04],[6.38,5.08],[6.58,4.98],[6.82,5.1],
  [7.02,5.04],[7.22,5.12],[7.42,5.04],[7.62,5.08],[7.82,5.02],[8.08,5.12],[8.28,5.02],[8.52,5.08],[8.78,5.04],[9.08,5.18],
  [9.32,5.02],[4.82,4.72],[5.18,4.68],[5.48,4.78],[5.72,4.68],[5.98,4.76],[6.18,4.68],[6.48,4.74],[6.72,4.7],[6.92,4.78],
  [7.12,4.72],[7.38,4.7],[7.58,4.78],[7.82,4.74],[8.02,4.72],[8.28,4.76],[8.48,4.72],[8.72,4.74],[8.98,4.64],[9.32,4.72],
  [4.98,4.42],[5.28,4.32],[5.62,4.42],[5.88,4.46],[6.12,4.36],[6.38,4.44],[6.58,4.36],[6.82,4.44],[7.02,4.38],[7.22,4.44],
  [7.42,4.38],[7.68,4.42],[7.92,4.42],[8.12,4.42],[8.32,4.46],[8.58,4.36],[8.82,4.38],[9.08,4.48],[9.38,4.36],[5.18,4.12],
  [5.48,4.12],[5.78,4.18],[6.12,4.08],[6.38,4.16],[6.62,4.18],[6.88,4.06],[7.08,4.16],[7.38,4.12],[7.62,4.14],[7.82,4.08],
  [8.08,4.12],[8.32,4.08],[8.52,4.18],[8.72,4.1],[8.92,4.12],[9.28,4.12],[5.38,3.82],[5.72,3.86],[5.98,3.78],[6.28,3.82],
  [6.48,3.88],[6.72,3.86],[6.98,3.82],[7.32,3.88],[7.58,3.84],[7.88,3.82],[8.12,3.82],[8.48,3.84],[8.78,3.88],[9.18,3.88],
  [5.78,3.58],[6.22,3.62],[6.58,3.52],[6.98,3.48],[7.38,3.58],[7.72,3.56],[8.08,3.48],[8.52,3.58],[8.92,3.48],
];
const cFit: Pt[] = [[0, 6.53], [10.4, 5.05]];

// ---- Panel D: speaker means, pooled ----
const dAll: Pt[] = [
  [6.1,5.46],[6.16,5.78],[6.22,4.76],[6.26,5.45],[6.29,5.68],[6.37,5.86],[6.38,5.72],[6.38,5.58],[6.41,5.58],[6.47,6.15],
  [6.47,5.97],[6.47,5.22],[6.49,5.32],[6.49,5.73],[6.5,6.3],[6.51,5.97],[6.5,4.97],[6.53,4.53],[6.53,5.85],[6.54,5.92],
  [6.55,5.92],[6.54,5.29],[6.57,6.04],[6.58,5.81],[6.58,5.52],[6.6,4.94],[6.64,5.91],[6.65,4.66],[6.67,5.7],[6.69,4.5],
  [6.69,5.26],[6.7,5.73],[6.7,5.38],[6.73,6.36],[6.74,5.5],[6.76,5.4],[6.76,5.31],[6.77,5.26],[6.79,5.89],[6.79,5.65],
  [6.79,4.81],[6.79,5.32],[6.82,5.45],[6.82,5.65],[6.86,5.57],[6.88,5.22],[6.89,5.72],[6.89,6.49],[6.9,5.18],[6.9,5.99],
  [6.94,5.65],[6.97,5.47],[6.98,5.17],[7.0,6.51],[7.0,5.58],[7.01,5.48],[7.01,5.4],[7.02,7.1],[7.1,4.84],[7.1,5.51],
  [7.1,5.24],[7.1,5.45],[7.11,5.27],[7.12,5.67],[7.12,5.09],[7.14,6.07],[7.14,4.86],[7.15,5.28],[7.15,5.91],[7.15,4.79],
  [7.17,5.57],[7.22,5.73],[7.22,5.31],[7.27,5.02],[7.27,4.9],[7.29,5.76],[7.29,5.36],[7.29,6.39],[7.33,5.21],[7.33,5.07],
  [7.35,5.43],[7.42,5.1],[7.45,5.82],[7.49,5.1],[7.53,4.88],[7.55,6.06],[7.59,5.2],[7.6,5.66],[7.62,5.18],[7.65,4.71],
  [7.67,5.56],[7.76,5.93],[7.81,5.64],[7.96,5.4],[8.0,5.74],[8.11,6.13],[8.11,6.11],[8.41,5.13],[9.05,5.71],
];
const dFit: Pt[] = [[6.1, 5.535], [9.05, 5.48]];

const rows = (pts: Pt[]) => pts.map(([x, y]) => ({ x, y }));
const fixed1 = (v: number) => v.toFixed(1);
const plain = (v: number) => String(v);

const dot = (color: string) => (props: any) =>
  props.cx == null ? <g /> : <circle cx={props.cx} cy={props.cy} r={3.4} fill={color} />;

interface Series { pts: Pt[]; color: string }
interface Fit { pts: Pt[]; dashed?: boolean }
interface PanelProps {
  box: [number, number, number, number];
  xDomain: [number, number];
  yDomain: [number, number];
  xTicks: number[];
  yTicks: number[];
  xFmt: (v: number) => string;
  yFmt: (v: number) => string;
  series: Series[];
  fits: Fit[];
}

const Panel = ({ box, xDomain, yDomain, xTicks, yTicks, xFmt, yFmt, series, fits }: PanelProps) => {
  const [x0, x1, y0, y1] = box;
  const axisLine = { stroke: '#000', strokeWidth: 1.2 };
  const tickLine = { stroke: '#333', strokeWidth: 1.1 };
  const tick = { fill: TICK_COLOR, fontSize: 18 };
  return (
    <div style={{ position: 'absolute', left: x0 - 55, top: y0 - 10 }}>
      <ScatterChart width={x1 - x0 + 60} height={y1 - y0 + 45} margin={{ top: 10, right: 5, bottom: 5, left: 5 }}>
        <XAxis type="number" dataKey="x" domain={xDomain} ticks={xTicks} interval={0} allowDataOverflow
          tickFormatter={xFmt} height={30} axisLine={axisLine} tickLine={tickLine} tickSize={5} tickMargin={7} tick={tick} />
        <YAxis type="number" dataKey="y" domain={yDomain} ticks={yTicks} interval={0} allowDataOverflow
          tickFormatter={yFmt} width={50} axisLine={axisLine} tickLine={tickLine} tickSize={5} tickMargin={5} tick={tick} />
        {series.map((s, i) => (
          <Scatter key={i} data={rows(s.pts)} fill={s.color} shape={dot(s.color)} isAnimationActive={false} />
        ))}
        {fits.map((f, i) => (
          <ReferenceLine key={'fit' + i} ifOverflow="visible"
            segment={[{ x: f.pts[0][0], y: f.pts[0][1] }, { x: f.pts[1][0], y: f.pts[1][1] }]}
            stroke={f.dashed ? '#333' : '#111'} strokeWidth={f.dashed ? 1 : 1.8}
            strokeDasharray={f.dashed ? '4 3' : undefined} />
        ))}
      </ScatterChart>
    </div>
  );
};

const XTITLE = 'Syntax frequency (log)';
const YTITLE = 'Content word frequency (log)';

export default function App() {
  const titles = [
    { x: 320.7, y: 403, yx: 41.5, yy: 193, letter: 'A', lx: 10, ly: 33 },
    { x: 1031, y: 400.5, yx: 749.5, yy: 187.5, letter: 'B', lx: 722, ly: 33 },
    { x: 372, y: 810, yx: 33, yy: 598.5, letter: 'C', lx: 9, ly: 442 },
    { x: 1067.5, y: 810, yx: 744.5, yy: 598, letter: 'D', lx: 724, ly: 442 },
  ];
  const legendY = [151.5, 190, 229, 268];
  return (
    <div style={{ position: 'absolute', left: 0, top: 0, width: 1355, height: 819, background: '#fff', fontFamily: FONT }}>
      <Panel box={[75.7, 565.7, 31, 355]} xDomain={[-0.52, 10.92]} yDomain={[-0.54, 11.29]}
        xTicks={[0, 2.5, 5, 7.5, 10]} yTicks={[0, 3, 6, 9]} xFmt={fixed1} yFmt={plain}
        series={[
          { pts: aSv, color: subtypeColors[3] },
          { pts: aLv, color: subtypeColors[2] },
          { pts: aControl, color: subtypeColors[0] },
          { pts: aNfv, color: subtypeColors[1] },
        ]}
        fits={[{ pts: aFit }]} />
      <Panel box={[786, 1275.7, 25, 350]} xDomain={[4.63, 9.475]} yDomain={[5.54, 9.5]}
        xTicks={[5, 6, 7, 8, 9]} yTicks={[6, 7, 8, 9]} xFmt={plain} yFmt={plain}
        series={[
          { pts: bControl, color: subtypeColors[0] },
          { pts: bNfv, color: subtypeColors[1] },
          { pts: bLv, color: subtypeColors[2] },
          { pts: bSv, color: subtypeColors[3] },
        ]}
        fits={[{ pts: bFitDashed, dashed: true }, { pts: bFit }]} />
      <Panel box={[85.7, 659, 437, 760]} xDomain={[-0.52, 10.92]} yDomain={[-0.505, 10.6]}
        xTicks={[0, 2.5, 5, 7.5, 10]} yTicks={[0, 2.5, 5, 7.5, 10]} xFmt={fixed1} yFmt={fixed1}
        series={[{ pts: cAll, color: pooledColor }]} fits={[{ pts: cFit }]} />
      <Panel box={[786, 1349, 435.5, 760]} xDomain={[5.95, 9.2]} yDomain={[4.37, 7.23]}
        xTicks={[6, 7, 8, 9]} yTicks={[4.5, 5, 5.5, 6, 6.5, 7]} xFmt={plain} yFmt={fixed1}
        series={[{ pts: dAll, color: pooledColor }]} fits={[{ pts: dFit }]} />

      <svg width={1355} height={819} style={{ position: 'absolute', left: 0, top: 0, pointerEvents: 'none' }}>
        {titles.map((t) => (
          <g key={t.letter}>
            <text x={t.lx} y={t.ly} fontSize={26} fill="#000">{t.letter}</text>
            <text x={t.x} y={t.y} fontSize={21} textAnchor="middle" fill="#000">{XTITLE}</text>
            <text x={t.yx} y={t.yy} fontSize={21} textAnchor="middle" fill="#000"
              transform={`rotate(-90 ${t.yx} ${t.yy})`}>{YTITLE}</text>
          </g>
        ))}
        <text x={602} y={117} fontSize={21} fill="#000">Subtype</text>
        {subtypeNames.map((name, i) => (
          <g key={name}>
            <circle cx={622} cy={legendY[i]} r={2.8} fill={subtypeColors[i]} />
            <text x={653} y={legendY[i] + 6.5} fontSize={18} fill="#000">{name}</text>
          </g>
        ))}
      </svg>
    </div>
  );
}
